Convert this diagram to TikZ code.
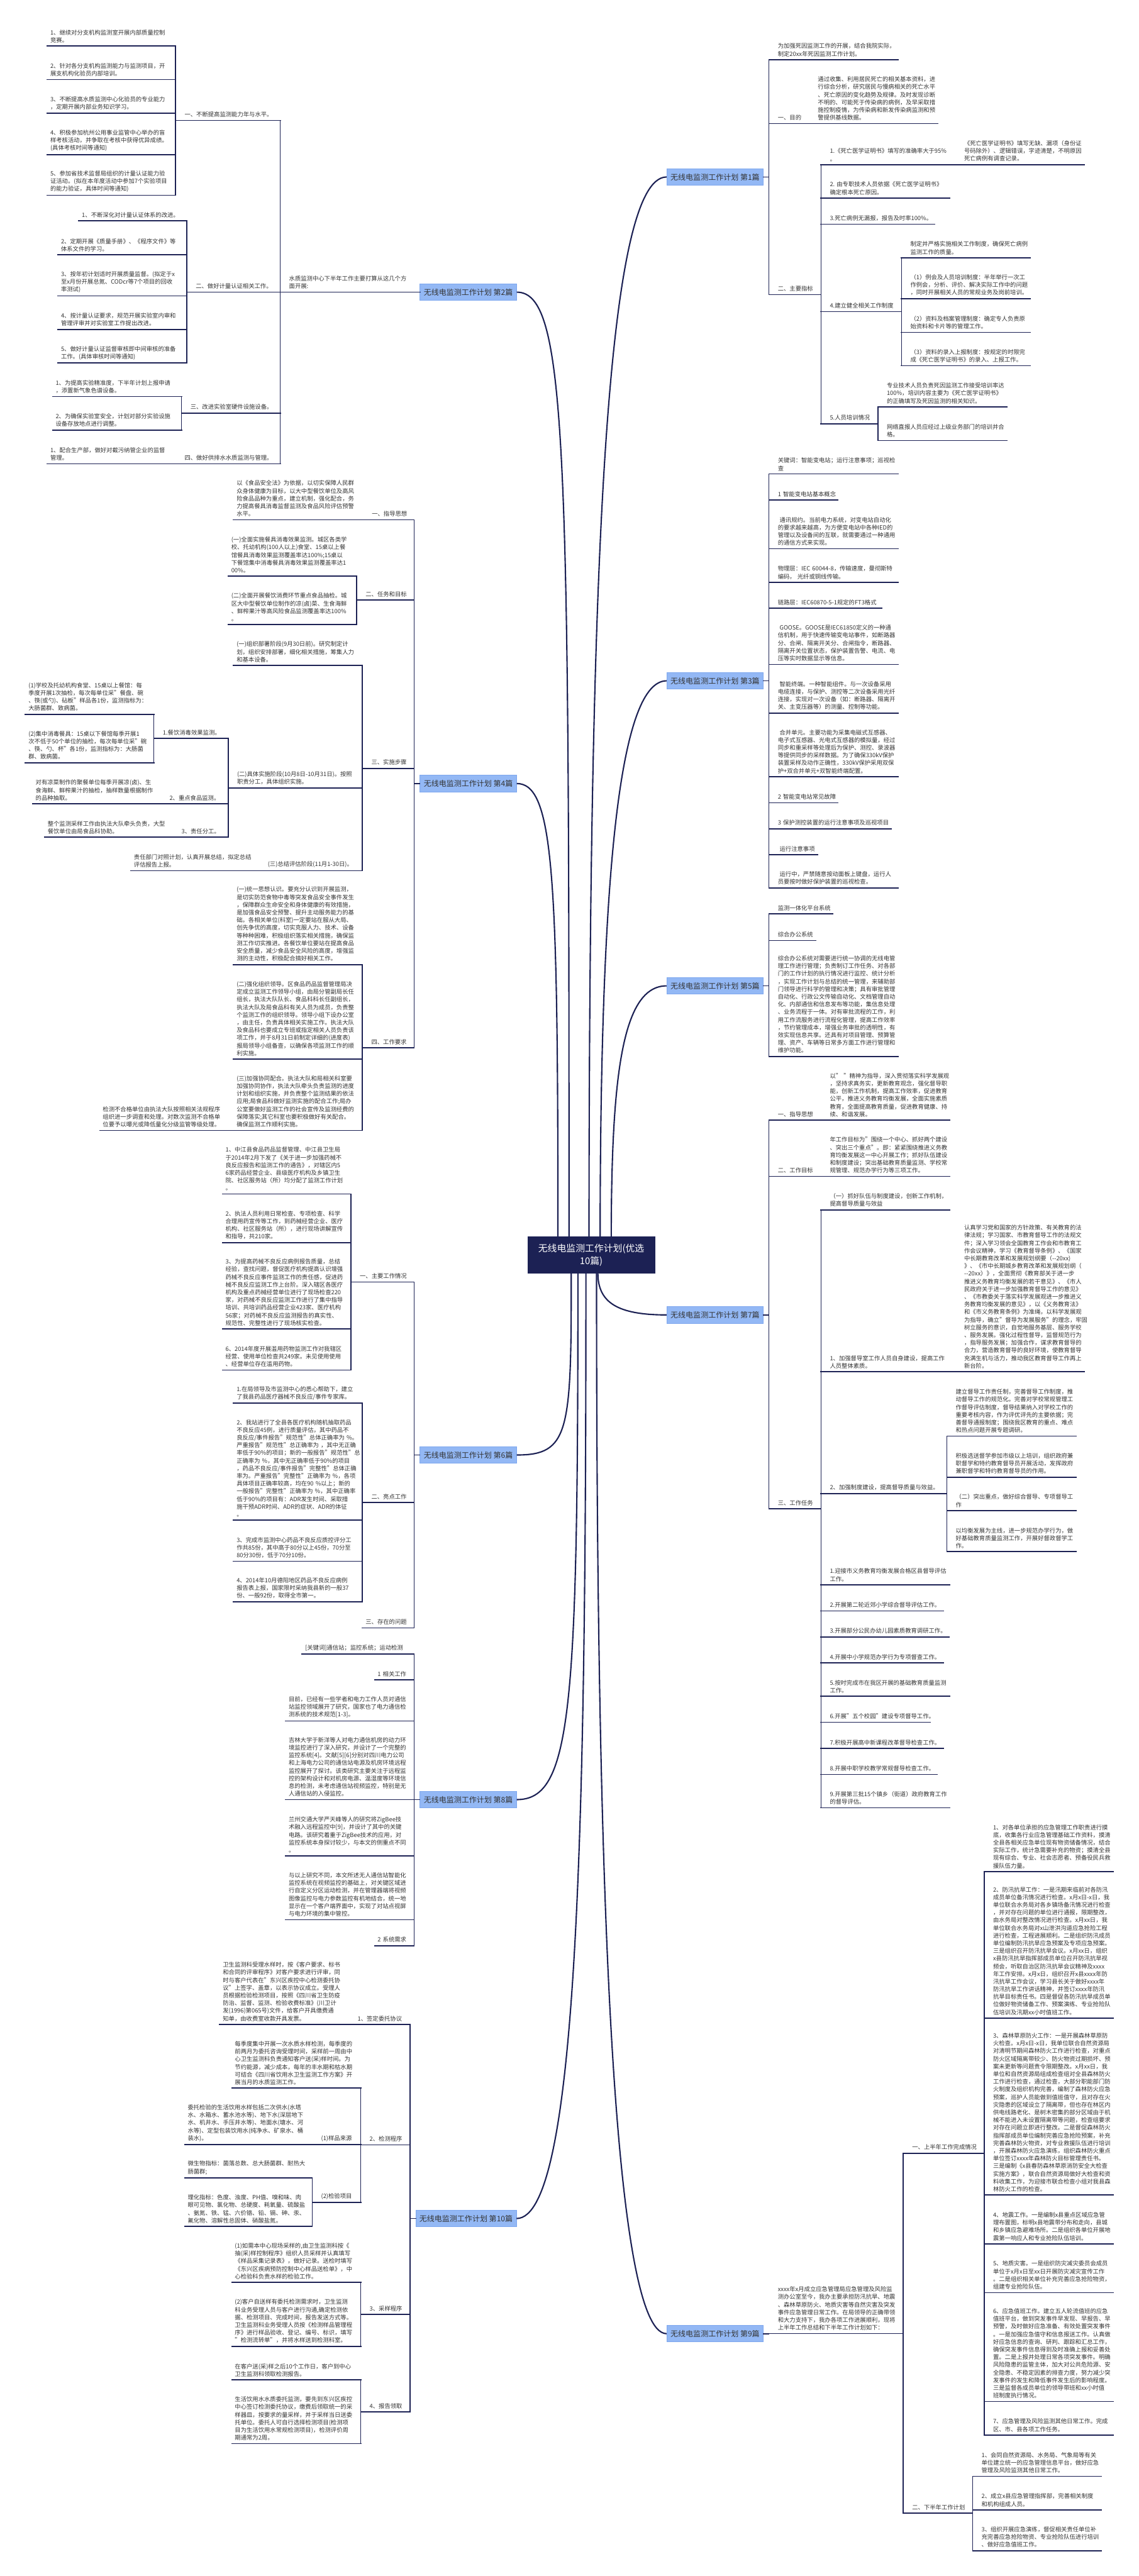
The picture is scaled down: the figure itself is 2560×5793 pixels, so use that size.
\documentclass[tikz,border=0pt]{standalone}
\usepackage{fontspec}
\setmainfont{Noto Sans CJK SC}
\definecolor{inkline}{HTML}{1C2154}
\definecolor{inktext}{HTML}{333333}
\definecolor{sheetfill}{HTML}{93B8F5}
\definecolor{sheetedge}{HTML}{7EA7EE}
\newcommand{\leaffont}{\fontsize{13.2pt}{17.25pt}\selectfont}
\newcommand{\sheetfont}{\fontsize{17pt}{20pt}\selectfont}
\newcommand{\hubfont}{\fontsize{21pt}{29.6pt}\selectfont}
\hyphenpenalty=10000
\exhyphenpenalty=10000
\tikzset{
  link/.style={draw=inkline, line width=2.4pt, line cap=rect},
  trunk/.style={draw=inkline, line width=3pt},
  leafnode/.style={anchor=south west, inner xsep=7pt, inner ysep=7pt, align=left,
    font=\leaffont, text=inktext,
    append after command={(\tikzlastnode.south west) edge[link] (\tikzlastnode.south east)}},
  armnode/.style={leafnode, inner xsep=20pt},
  sheet/.style={fill=sheetfill, draw=sheetedge, line width=1pt, minimum width=217pt,
    minimum height=37pt, inner sep=0pt, font=\sheetfont, text=inktext},
  hub/.style={fill=inkline, minimum width=287pt, minimum height=83pt, inner sep=0pt,
    align=center, font=\hubfont, text=white}
}

\begin{document}
\begin{tikzpicture}[x=1pt, y=-1pt]
  \fill[white] (0,0) rectangle (2560,5793);
  \useasboundingbox (0,0) rectangle (2560,5793);

  % centre and the ten sheets
  \node[hub] (ctr) at (1329.5,2822.5) {无线电监测工作计划(优选\\10篇)};
  \node[sheet] (p1) at (1608,398) {无线电监测工作计划 第1篇};
  \node[sheet] (p2) at (1053,657) {无线电监测工作计划 第2篇};
  \node[sheet] (p3) at (1608,1531) {无线电监测工作计划 第3篇};
  \node[sheet] (p4) at (1053,1762) {无线电监测工作计划 第4篇};
  \node[sheet] (p5) at (1608,2217) {无线电监测工作计划 第5篇};
  \node[sheet] (p6) at (1053,3272) {无线电监测工作计划 第6篇};
  \node[sheet] (p7) at (1608,2957) {无线电监测工作计划 第7篇};
  \node[sheet] (p8) at (1053,4047) {无线电监测工作计划 第8篇};
  \node[sheet] (p9) at (1608,5248) {无线电监测工作计划 第9篇};
  \node[sheet, minimum width=226pt] (p10) at (1048,4989) {无线电监测工作计划 第10篇};

  \draw[trunk] ([xshift=-50pt]ctr.north) .. controls (1280,1000) and (1275,657) .. (p2.east);
  \draw[trunk] ([xshift=-75pt]ctr.north) .. controls (1255,1966) and (1245,1762) .. (p4.east);
  \draw[trunk] ([xshift=-5pt]ctr.north) .. controls (1325,1300) and (1360,398) .. (p1.west);
  \draw[trunk] ([xshift=20pt]ctr.north) .. controls (1350,2031) and (1385,1531) .. (p3.west);
  \draw[trunk] ([xshift=45pt]ctr.north) .. controls (1375,2414) and (1400,2217) .. (p5.west);
  \draw[trunk] ([xshift=-45pt]ctr.south) .. controls (1285,3220) and (1280,3272) .. (p6.east);
  \draw[trunk] ([xshift=-30pt]ctr.south) .. controls (1300,3850) and (1285,4047) .. (p8.east);
  \draw[trunk] ([xshift=-12pt]ctr.south) .. controls (1318,4100) and (1300,4989) .. (p10.east);
  \draw[trunk] ([xshift=15pt]ctr.south) .. controls (1345,2930) and (1390,2957) .. (p7.west);
  \draw[trunk] ([xshift=12pt]ctr.south) .. controls (1341,4100) and (1370,5248) .. (p9.west);

  % 第2篇
  \node[armnode, text width=275pt] (p2i) at (630,657) {水质监测中心下半年工作主要打算从这几个方\\面开展:};
  \node[armnode, text width=195pt] (p2a) at (395,271) {一、不断提高监测能力年与水平。};
  \node[armnode, text width=170pt] (p2b) at (420,657) {二、做好计量认证相关工作。};
  \node[armnode, text width=182pt] (p2c) at (408,929) {三、改进实验室硬件设施设备。};
  \node[leafnode, text width=208pt] (p2d) at (408,1043) {四、做好供排水水质监测与管理。};
  \node[leafnode, text width=275pt] (p2a1) at (106,103.5) {1、继续对分支机构监测室开展内部质量控制\\竞赛。};
  \node[leafnode, text width=275pt] (p2a2) at (106,179) {2、针对各分支机构监测能力与监测项目，开\\展支机构化验员内部培训。};
  \node[leafnode, text width=275pt] (p2a3) at (106,254.5) {3、不断提高水质监测中心化验员的专业能力\\，定期开展内部业务知识学习。};
  \node[leafnode, text width=275pt] (p2a4) at (106,347.5) {4、积极参加杭州公用事业监管中心举办的盲\\样考核活动，并争取在考核中获得优异成绩。\\(具体考核时间等通知)};
  \node[leafnode, text width=275pt] (p2a5) at (106,439) {5、参加省技术监督局组织的计量认证能力验\\证活动。(拟在本年度活动中参加7个实验项目\\的能力验证，具体时间等通知)};
  \node[leafnode, text width=229pt] (p2b1) at (177,496.6) {1、不断深化对计量认证体系的改进。};
  \node[leafnode, text width=276pt] (p2b2) at (130,573) {2、定期开展《质量手册》、《程序文件》等\\体系文件的学习。};
  \node[leafnode, text width=276pt] (p2b3) at (130,665.5) {3、按年初计划适时开展质量监督。(拟定于x\\至x月份开展总氮、CODcr等7个项目的回收\\率测试)};
  \node[leafnode, text width=276pt] (p2b4) at (130,740.6) {4、按计量认证要求，规范开展实验室内审和\\管理评审并对实验室工作提出改进。};
  \node[leafnode, text width=276pt] (p2b5) at (130,816.4) {5、做好计量认证监督审核即中间审核的准备\\工作。(具体审核时间等通知)};
  \node[leafnode, text width=276pt] (p2c1) at (118,891.5) {1、为提高实验精准度，下半年计划上报申请\\，添置新气象色谱设备。};
  \node[leafnode, text width=276pt] (p2c2) at (118,967) {2、为确保实验室安全，计划对部分实验设施\\设备存放地点进行调整。};
  \node[leafnode, text width=288pt] (p2d1) at (106,1043) {1、配合生产部，做好对截污纳管企业的监督\\管理。};

  \draw[link] (p2.west) -| (p2i.south east);
  \foreach \kid in {p2a,p2b,p2c,p2d} \draw[link] (p2i.south west) |- (\kid.south east);
  \foreach \kid in {p2a1,p2a2,p2a3,p2a4,p2a5} \draw[link] (p2a.south west) |- (\kid.south east);
  \foreach \kid in {p2b1,p2b2,p2b3,p2b4,p2b5} \draw[link] (p2b.south west) |- (\kid.south east);
  \foreach \kid in {p2c1,p2c2} \draw[link] (p2c.south west) |- (\kid.south east);
  \draw[link] (p2d.south west) |- (p2d1.south east);

  % 第4篇
  \node[armnode, text width=75pt] (p4a) at (816,1169) {一、指导思想};
  \node[leafnode, text width=277pt] (p4a1) at (525,1169) {以《食品安全法》为依据，以切实保障人民群\\众身体健康为目标，以大中型餐饮单位及高风\\险食品品种为重点，建立机制，强化配合，务\\力提高餐具消毒监督监测及食品风险评估预警\\水平。};
  \node[armnode, text width=89pt] (p4b) at (802,1349) {二、任务和目标};
  \node[leafnode, text width=275pt] (p4b1) at (513,1295.6) {(一)全面实施餐具消毒效果监测。城区各类学\\校、托幼机构(100人以上)食堂、15桌以上餐\\馆餐具消毒效果监测覆盖率达100\%;15桌以\\下餐馆集中消毒餐具消毒效果监测覆盖率达1\\00\%。};
  \node[leafnode, text width=275pt] (p4b2) at (513,1404.7) {(二)全面开展餐饮消费环节重点食品抽检。城\\区大中型餐饮单位制作的凉(卤)菜、生食海鲜\\、鲜榨果汁等高风险食品监测覆盖率达100\%\\。};
  \node[armnode, text width=76pt] (p4c) at (815,1728) {三、实施步骤};
  \node[leafnode, text width=276pt] (p4c1) at (525,1496.5) {(一)组织部署阶段(9月30日前)。研究制定计\\划，组织安排部署，细化相关措施，筹集人力\\和基本设备。};
  \node[armnode, text width=262pt] (p4c2) at (513,1772) {(二)具体实施阶段(10月8日-10月31日)。按照\\职责分工，具体组织实施。};
  \node[armnode, text width=127pt] (p4c2a) at (346,1660.4) {1.餐饮消毒效果监测。};
  \node[leafnode, text width=275pt] (p4c2a1) at (57,1606.2) {(1)学校及托幼机构食堂、15桌以上餐馆：每\\季度开展1次抽检，每次每单位采"餐盘、碗\\、筷(或勺)、砧板"样品各1份，监测指标为：\\大肠菌群、致病菌。};
  \node[leafnode, text width=275pt] (p4c2a2) at (57,1715.2) {(2)集中消毒餐具：15桌以下餐馆每季开展1\\次不低于50个单位的抽检，每次每单位采"碗\\、筷、勺、杯"各1份，监测指标为：大肠菌\\群、致病菌。};
  \node[armnode, text width=112pt] (p4c2b) at (361,1807.7) {2、重点食品监测。};
  \node[leafnode, text width=274pt] (p4c2b1) at (73,1807.7) {对有凉菜制作的聚餐单位每季开展凉(卤)、生\\食海鲜、鲜榨果汁的抽检，抽样数量根据制作\\的品种抽取。};
  \node[armnode, text width=85pt] (p4c2c) at (388,1882.8) {3、责任分工。};
  \node[leafnode, text width=274pt] (p4c2c1) at (100,1882.8) {整个监测采样工作由执法大队牵头负责，大型\\餐饮单位由局食品科协助。};
  \node[armnode, text width=193pt] (p4c3) at (582,1957.9) {(三)总结评估阶段(11月1-30日)。};
  \node[leafnode, text width=274pt] (p4c31) at (294,1957.9) {责任部门对照计划，认真开展总结，拟定总结\\评估报告上报。};
  \node[armnode, text width=76pt] (p4d) at (815,2356) {四、工作要求};
  \node[leafnode, text width=276pt] (p4d1) at (525,2169.2) {(一)统一思想认识。要充分认识到开展监测，\\是切实防范食物中毒等突发食品安全事件发生\\，保障群众生命安全和身体健康的有效措施，\\是加强食品安全预警、提升主动服务能力的基\\础。各相关单位(科室)一定要站在服从大局、\\创先争优的高度，切实克服人力、技术、设备\\等种种困难，积极组织落实相关措施，确保监\\测工作切实推进。各餐饮单位要站在提高食品\\安全质量，减少食品安全风险的高度，增强监\\测的主动性，积极配合搞好相关工作。};
  \node[leafnode, text width=276pt] (p4d2) at (525,2381.8) {(二)强化组织领导。区食品药品监督管理局决\\定成立监测工作领导小组，由局分管副局长任\\组长，执法大队队长、食品科科长任副组长，\\执法大队及局食品科有关人员为成员，负责整\\个监测工作的组织领导。领导小组下设办公室\\，由主任，负责具体相关实施工作。执法大队\\及食品科也要成立专班或指定相关人员负责该\\项工作，并于8月31日前制定详细的(进度表)\\报局领导小组备查，以确保各项监测工作的顺\\利实施。};
  \node[leafnode, text width=276pt] (p4d3) at (525,2542) {(三)加强协同配合。执法大队和局相关科室要\\加强协同协作，执法大队牵头负责监测的进度\\计划和组织实施，并负责整个监测结果的依法\\应用;局食品科做好监测实施的配合工作;局办\\公室要做好监测工作的社会宣传及监测经费的\\保障落实;其它科室也要积极做好有关配合。\\确保监测工作顺利实施。};
  \node[leafnode, text width=287pt] (p4d31) at (224,2542) {检测不合格单位由执法大队按照相关法规程序\\组织进一步调查和处理。对数次监测不合格单\\位要予以曝光或降低量化分级监管等级处理。};

  \foreach \kid in {p4a,p4b,p4c,p4d} \draw[link] (p4.west) -| (\kid.south east);
  \draw[link] (p4a.south west) |- (p4a1.south east);
  \foreach \kid in {p4b1,p4b2} \draw[link] (p4b.south west) |- (\kid.south east);
  \foreach \kid in {p4c1,p4c2,p4c3} \draw[link] (p4c.south west) |- (\kid.south east);
  \foreach \kid in {p4c2a,p4c2b,p4c2c} \draw[link] (p4c2.south west) |- (\kid.south east);
  \foreach \kid in {p4c2a1,p4c2a2} \draw[link] (p4c2a.south west) |- (\kid.south east);
  \draw[link] (p4c2b.south west) |- (p4c2b1.south east);
  \draw[link] (p4c2c.south west) |- (p4c2c1.south east);
  \draw[link] (p4c3.south west) |- (p4c31.south east);
  \foreach \kid in {p4d1,p4d2,p4d3} \draw[link] (p4d.south west) |- (\kid.south east);
  \draw[link] (p4d3.south west) |- (p4d31.south east);

  % 第6篇
  \node[armnode, text width=102pt] (p6a) at (789,2883) {一、主要工作情况};
  \node[leafnode, text width=275pt] (p6a1) at (500,2685) {1、中江县食品药品监督管理、中江县卫生局\\于2014年2月下发了《关于进一步加强药械不\\良反应报告和监测工作的通告》，对辖区内5\\6家药品经营企业、县级医疗机构及乡镇卫生\\院、社区服务站（所）均分配了监测工作计划\\。};
  \node[leafnode, text width=275pt] (p6a2) at (500,2794.6) {2、执法人员利用日常检查、专项检查、科学\\合理用药宣传等工作，到药械经营企业、医疗\\机构、社区服务站（所），进行现场讲解宣传\\和指导，共210家。};
  \node[leafnode, text width=275pt] (p6a3) at (500,2988.6) {3、为提高药械不良反应病例报告质量，总结\\经验，查找问题，督促医疗机构提高认识增强\\药械不良反应事件监测工作的责任感，促进药\\械不良反应监测工作上台阶。深入辖区各医疗\\机构及重点药械经营单位进行了现场检查220\\家，对药械不良反应监测工作进行了集中指导\\培训、共培训药品经营企业423家、医疗机构\\56家；对药械不良反应监测报告的真实性、\\规范性、完整性进行了现场核实检查。};
  \node[leafnode, text width=275pt] (p6a4) at (500,3081) {6、2014年度开展滥用药物监测工作对我辖区\\经营、使用单位检查共249家。未见使用使用\\、经营单位存在滥用药物。};
  \node[armnode, text width=76pt] (p6b) at (815,3378.6) {二、亮点工作};
  \node[leafnode, text width=276pt] (p6b1) at (525,3155.5) {1.在局领导及市监测中心的悉心帮助下，建立\\了我县药品医疗器械不良反应/事件专家库。};
  \node[leafnode, text width=276pt] (p6b2) at (525,3418.6) {2、我站进行了全县各医疗机构随机抽取药品\\不良反应45例，进行质量评估，其中药品不\\良反应/事件报告"规范性"总体正确率为~\%。\\严重报告"规范性"总正确率为~，其中无正确\\率低于90\%的项目；新的一般报告"规范性"总\\正确率为~\%，其中无正确率低于90\%的项目\\，药品不良反应/事件报告"完整性"总体正确\\率为。严重报告"完整性"正确率为~\%，各项\\具体项目正确率较高，均在90~\%以上；新的\\一般报告"完整性"正确率为~\%，其中正确率\\低于90\%的项目有：ADR发生时间、采取措\\施干预ADR时间、ADR的症状、ADR的体征\\。};
  \node[leafnode, text width=276pt] (p6b3) at (525,3511) {3、完成市监测中心药品不良反应质控评分工\\作共85份，其中高于80分以上45份，70分至\\80分30份，低于70分10份。};
  \node[leafnode, text width=276pt] (p6b4) at (525,3602.3) {4、2014年10月德阳地区药品不良反应病例\\报告表上报，国家限时采纳我县新的一般37\\份、一般92份，取得全市第一。};
  \node[leafnode, text width=102pt] (p6c) at (815,3660.8) {三、存在的问题};

  \foreach \kid in {p6a,p6b,p6c} \draw[link] (p6.west) -| (\kid.south east);
  \foreach \kid in {p6a1,p6a2,p6a3,p6a4} \draw[link] (p6a.south west) |- (\kid.south east);
  \foreach \kid in {p6b1,p6b2,p6b3,p6b4} \draw[link] (p6b.south west) |- (\kid.south east);

  % 第8篇
  \node[leafnode, text width=238pt] (p8a) at (679,3719.3) {[关键词]通信站；监控系统；运动检测};
  \node[leafnode, text width=75pt] (p8b) at (842,3777.9) {1~相关工作};
  \node[leafnode, text width=275pt] (p8c) at (642,3870.2) {目前，已经有一些学者和电力工作人员对通信\\站监控领域展开了研究，国家也了电力通信检\\测系统的技术规范[1-3]。};
  \node[leafnode, text width=275pt] (p8d) at (642,4047) {吉林大学于新洋等人对电力通信机房的动力环\\境监控进行了深入研究，并设计了一个完整的\\监控系统[4]。文献[5][6]分别对四川电力公司\\和上海电力公司的通信站电源及机房环境远程\\监控展开了探讨。该类研究主要关注于远程监\\控的架构设计和对机房电源、温湿度等环境信\\息的检测，未考虑通信站视频监控，特别是无\\人通信站的入侵监控。};
  \node[leafnode, text width=275pt] (p8e) at (642,4173.9) {兰州交通大学严天峰等人的研究将ZigBee技\\术融入远程监控中[9]，并设计了其中的关键\\电路。该研究着重于ZigBee技术的应用，对\\监控系统本身探讨较少，与本文的侧重点不同\\。};
  \node[leafnode, text width=275pt] (p8f) at (642,4316.9) {与以上研究不同，本文所述无人通信站智能化\\监控系统在视频监控的基础上，对关键区域进\\行自定义分区运动检测，并在管理器端将视频\\图像监控与电力参数监控有机地结合，统一地\\显示在一个客户端界面中，实现了对站点视屏\\与电力环境的集中管控。};
  \node[leafnode, text width=75pt] (p8g) at (842,4375.4) {2~系统需求};

  \foreach \kid in {p8a,p8b,p8c,p8d,p8e,p8f,p8g} \draw[link] (p8.west) -| (\kid.south east);

  % 第10篇
  \node[armnode, text width=98pt] (p10a) at (784,4552.8) {1、签定委托协议};
  \node[leafnode, text width=276pt] (p10a1) at (494,4552.8) {卫生监测科受理水样时，按《客户要求、标书\\和合同的评审程序》对客户要求进行评审，同\\时与客户代表在"东兴区疾控中心检测委托协\\议"上签字、盖章，以表示协议成立。受理人\\员根据检验检测项目，按照《四川省卫生防疫\\防治、监督、监测、检验收费标准》(川卫计\\发(1996)第065号)文件，给客户开具缴费通\\知单，由收费室收款开具发票。};
  \node[armnode, text width=71pt] (p10b) at (811,4823.5) {2、检测程序};
  \node[leafnode, text width=276pt] (p10b1) at (521,4695.8) {每季度集中开展一次水质水样检测，每季度的\\前两月为委托咨询受理时间，采样前一周由中\\心卫生监测科负责通知客户送(采)样时间。为\\节约能源，减少成本，每年的丰水期和枯水期\\可结合《四川省饮用水卫生监测工作方案》开\\展当月的水质监测工作。};
  \node[armnode, text width=69pt] (p10b2) at (702,4823) {(1)样品来源};
  \node[leafnode, text width=273pt] (p10b21) at (415,4823) {委托检验的生活饮用水样包括二次供水(水塔\\水、水箱水、蓄水池水等)、地下水(深层地下\\水、机井水、手压井水等)、地面水(塘水、河\\水等)、定型包装饮用水(纯净水、矿泉水、桶\\装水)。};
  \node[armnode, text width=69pt] (p10b3) at (702,4952.9) {(2)检验项目};
  \node[leafnode, text width=273pt] (p10b31) at (415,4897.6) {微生物指标：菌落总数、总大肠菌群、耐热大\\肠菌群;};
  \node[leafnode, text width=273pt] (p10b32) at (415,5006.9) {理化指标：色度、浊度、PH值、嗅和味、肉\\眼可见物、氯化物、总硬度、耗氧量、硫酸盐\\、氨氮、铁、锰、六价铬、铅、镉、砷、汞、\\氟化物、溶解性总固体、硝酸盐氮。};
  \node[armnode, text width=71pt] (p10c) at (811,5204.7) {3、采样程序};
  \node[leafnode, text width=276pt] (p10c1) at (521,5132.8) {(1)如需本中心现场采样的,由卫生监测科按《\\抽(采)样控制程序》组织人员采样并认真填写\\《样品采集记录表》，做好记录。送检时填写\\《东兴区疾病预防控制中心样品送检单》，中\\心检验科负责水样的检验工作。};
  \node[leafnode, text width=276pt] (p10c2) at (521,5276.6) {(2)客户自送样有委托检测需求时，卫生监测\\科业务受理人员与客户进行沟通,确定检测依\\据、检测项目、完成时间，报告发送方式等。\\卫生监测科业务受理人员按《检测样品管理程\\序》进行样品验收、登记、编号、标识，填写\\"检测流转单"，并将水样送到检测科室。};
  \node[armnode, text width=71pt] (p10d) at (811,5424) {4、报告领取};
  \node[leafnode, text width=276pt] (p10d1) at (521,5352.1) {在客户送(采)样之后10个工作日，客户到中心\\卫生监测科领取检测报告。};
  \node[leafnode, text width=276pt] (p10d2) at (521,5495.2) {生活饮用水水质委托监测，要先到东兴区疾控\\中心签订检测委托协议，缴费后领取统一的采\\样器皿，按要求的量采样，并于采样当日送委\\托单位。委托人可自行选择检测项目(检测项\\目为生活饮用水常规检测项目)，检测评价周\\期通常为2周。};

  \foreach \kid in {p10a,p10b,p10c,p10d} \draw[link] (p10.west) -| (\kid.south east);
  \draw[link] (p10a.south west) |- (p10a1.south east);
  \foreach \kid in {p10b1,p10b2,p10b3} \draw[link] (p10b.south west) |- (\kid.south east);
  \draw[link] (p10b2.south west) |- (p10b21.south east);
  \foreach \kid in {p10b31,p10b32} \draw[link] (p10b3.south west) |- (\kid.south east);
  \foreach \kid in {p10c1,p10c2} \draw[link] (p10c.south west) |- (\kid.south east);
  \foreach \kid in {p10d1,p10d2} \draw[link] (p10d.south west) |- (\kid.south east);

  % 第1篇
  \node[armnode, text width=250pt] (p1a) at (1729,134.3) {为加强死因监测工作的开展，结合我院实际，\\制定20xx年死因监测工作计划。};
  \node[armnode, text width=50pt] (p1b) at (1729,277.9) {一、目的};
  \node[armnode, text width=250pt] (p1b1) at (1819,277.9) {通过收集、利用居民死亡的相关基本资料，进\\行综合分析，研究居民与慢病相关的死亡水平\\、死亡原因的变化趋势及规律。及时发现诊断\\不明的、可能死于传染病的病例，及早采取措\\施控制疫情，为传染病和新发传染病监测和预\\警提供基线数据。};
  \node[armnode, text width=77pt] (p1c) at (1729,662.4) {二、主要指标};
  \node[armnode, text width=262pt] (p1c1) at (1846,370.3) {1.《死亡医学证明书》填写的准确率大于95\%\\。};
  \node[armnode, text width=250pt] (p1c11) at (2148,370.3) {《死亡医学证明书》填写无缺、漏项（身份证\\号码除外）、逻辑错误，字迹清楚，不明原因\\死亡病例有调查记录。};
  \node[armnode, text width=250pt] (p1c2) at (1846,445.5) {2.~由专职技术人员依据《死亡医学证明书》\\确定根本死亡原因。};
  \node[armnode, text width=216pt] (p1c3) at (1846,504) {3.死亡病例无漏报，报告及时率100\%。};
  \node[armnode, text width=141pt] (p1c4) at (1846,700.6) {4.建立健全相关工作制度};
  \node[armnode, text width=249pt] (p1c41) at (2027,579.8) {制定并严格实施相关工作制度，确保死亡病例\\监测工作的质量。};
  \node[armnode, text width=249pt] (p1c42) at (2027,671.6) {（1）例会及人员培训制度：半年举行一次工\\作例会，分析、评价、解决实际工作中的问题\\，同时开展相关人员的常规业务及岗前培训。};
  \node[armnode, text width=249pt] (p1c43) at (2027,747.4) {（2）资料及档案管理制度：确定专人负责原\\始资料和卡片等的管理工作。};
  \node[armnode, text width=249pt] (p1c44) at (2027,822.6) {（3）资料的录入上报制度：按规定的时限完\\成《死亡医学证明书》的录入、上报工作。};
  \node[armnode, text width=88pt] (p1c5) at (1846,952.8) {5.人员培训情况};
  \node[armnode, text width=250pt] (p1c51) at (1974,915) {专业技术人员负责死因监测工作接受培训率达\\100\%，培训内容主要为《死亡医学证明书》\\的正确填写及死因监测的相关知识。};
  \node[armnode, text width=250pt] (p1c52) at (1974,990.6) {网络直报人员应经过上级业务部门的培训并合\\格。};

  \foreach \kid in {p1a,p1b,p1c} \draw[link] (p1.east) -| (\kid.south west);
  \draw[link] (p1b.south east) |- (p1b1.south west);
  \foreach \kid in {p1c1,p1c2,p1c3,p1c4,p1c5} \draw[link] (p1c.south east) |- (\kid.south west);
  \draw[link] (p1c1.south east) |- (p1c11.south west);
  \foreach \kid in {p1c41,p1c42,p1c43,p1c44} \draw[link] (p1c4.south east) |- (\kid.south west);
  \foreach \kid in {p1c51,p1c52} \draw[link] (p1c5.south east) |- (\kid.south west);

  % 第3篇
  \node[armnode, text width=250pt] (p3a) at (1729,1065.8) {关键词：智能变电站；运行注意事项；巡视检\\查};
  \node[armnode, text width=115pt] (p3b) at (1729,1124.3) {1~智能变电站基本概念};
  \node[armnode, text width=250pt] (p3c) at (1729,1234) {\hspace*{4pt}通讯规约。当前电力系统，对变电站自动化\\的要求越来越高，为方便变电站中各种IED的\\管理以及设备间的互联，就需要通过一种通用\\的通信方式来实现。};
  \node[armnode, text width=250pt] (p3d) at (1729,1309.8) {物理层：IEC~60044-8，传输速度，曼彻斯特\\编码，~光纤或铜线传输。};
  \node[armnode, text width=213pt] (p3e) at (1729,1367.7) {链路层：IEC60870-5-1规定的FT3格式};
  \node[armnode, text width=250pt] (p3f) at (1729,1494) {\hspace*{4pt}GOOSE。GOOSE是IEC61850定义的一种通\\信机制，用于快速传输变电站事件，如断路器\\分、合闸、隔离开关分、合闸指令，断路器、\\隔离开关位置状态，保护装置告警、电流、电\\压等实时数据显示等信息。};
  \node[armnode, text width=250pt] (p3g) at (1729,1603.7) {\hspace*{4pt}智能终端。一种智能组件。与一次设备采用\\电缆连接，与保护、测控等二次设备采用光纤\\连接，实现对一次设备（如：断路器、隔离开\\关、主变压器等）的测量、控制等功能。};
  \node[armnode, text width=250pt] (p3h) at (1729,1746.6) {\hspace*{4pt}合并单元。主要功能为采集电磁式互感器、\\电子式互感器、光电式互感器的模拟量，经过\\同步和重采样等处理后为保护、测控、录波器\\等提供同步的采样数据。为了确保330kV保护\\装置采样及动作正确性，330kV保护采用双保\\护+双合并单元+双智能终端配置。};
  \node[armnode, text width=115pt] (p3i) at (1729,1805.2) {2~智能变电站常见故障};
  \node[armnode, text width=235pt] (p3j) at (1729,1863.7) {3~保护测控装置的运行注意事项及巡视项目};
  \node[armnode, text width=69pt] (p3k) at (1729,1922.2) {\hspace*{4pt}运行注意事项};
  \node[armnode, text width=250pt] (p3l) at (1729,1996.7) {\hspace*{4pt}运行中，严禁随意按动面板上键盘，运行人\\员要按时做好保护装置的巡视检查。};

  \foreach \kid in {p3a,p3b,p3c,p3d,p3e,p3f,p3g,p3h,p3i,p3j,p3k,p3l} \draw[link] (p3.east) -| (\kid.south west);

  % 第5篇
  \node[armnode, text width=104pt] (p5a) at (1729,2055.2) {监测一体化平台系统};
  \node[armnode, text width=65pt] (p5b) at (1729,2115) {综合办公系统};
  \node[armnode, text width=250pt] (p5c) at (1729,2375.6) {综合办公系统对需要进行统一协调的无线电管\\理工作进行管理；负责制订工作任务、对各部\\门的工作计划的执行情况进行监控、统计分析\\，实现工作计划与总结的统一管理，来辅助部\\门领导进行科学的管理和决策；具有审批管理\\自动化、行政公文传输自动化、文档管理自动\\化、内部通信和信息发布等功能，集信息处理\\、业务流程于一体。对有审批流程的工作，利\\用工作流服务进行流程化管理，提高工作效率\\，节约管理成本，增强业务审批的透明性，有\\效实现信息共享。还具有对项目管理、预算管\\理、资产、车辆等日常多方面工作进行管理和\\维护功能。};

  \foreach \kid in {p5a,p5b,p5c} \draw[link] (p5.east) -| (\kid.south west);

  % 第7篇
  \node[armnode, text width=77pt] (p7a) at (1729,2519.2) {一、指导思想};
  \node[armnode, text width=249pt] (p7a1) at (1846,2519.2) {以"~"精神为指导，深入贯彻落实科学发展观\\，坚持求真务实，更新教育观念，强化督导职\\能，创新工作机制，提高工作效率，促进教育\\公平，推进义务教育均衡发展，全面实施素质\\教育，全面提高教育质量，促进教育健康、持\\续、和谐发展。};
  \node[armnode, text width=77pt] (p7b) at (1729,2645.5) {二、工作目标};
  \node[armnode, text width=249pt] (p7b1) at (1846,2645.5) {年工作目标为"围绕一个中心、抓好两个建设\\、突出三个重点"。即：紧紧围绕推进义务教\\育均衡发展这一中心开展工作；抓好队伍建设\\和制度建设；突出基础教育质量监测、学校常\\规管理、规范办学行为等三项工作。};
  \node[armnode, text width=77pt] (p7c) at (1729,3392.8) {三、工作任务};
  \node[armnode, text width=249pt] (p7c1) at (1846,2720.7) {（一）抓好队伍与制度建设，创新工作机制，\\提高督导质量与效益};
  \node[armnode, text width=262pt] (p7c2) at (1846,3084.7) {1、加强督导室工作人员自身建设，提高工作\\人员整体素质。};
  \node[armnode, text width=250pt] (p7c21) at (2148,3084.7) {认真学习党和国家的方针政策、有关教育的法\\律法规；学习国家、市教育督导工作的法规文\\件；深入学习领会全国教育工作会和市教育工\\作会议精神，学习《教育督导条例》、《国家\\中长期教育改革和发展规划纲要（-{}-20xx)\\》、《市中长期城乡教育改革和发展规划纲（\\-{}-20xx）》，全面贯彻《教育部关于进一步\\推进义务教育均衡发展的若干意见》、《市人\\民政府关于进一步加强教育督导工作的意见》\\、《市教委关于落实科学发展观进一步推进义\\务教育均衡发展的意见》，以《义务教育法》\\和《市义务教育条例》为准绳，以科学发展观\\为指导，确立"督导为发展服务"的理念，牢固\\树立服务的意识，自觉地服务基层、服务学校\\、服务发展。强化过程性督导，监督规范行为\\，指导服务发展；加强合作，谋求教育督导的\\合力，营造教育督导的良好环境，使教育督导\\充满生机与活力，推动我区教育督导工作再上\\新台阶。};
  \node[armnode, text width=243pt] (p7c3) at (1846,3358.9) {2、加强制度建设，提高督导质量与效益。};
  \node[armnode, text width=250pt] (p7c31) at (2129,3229.5) {建立督导工作责任制，完善督导工作制度，推\\动督导工作的规范化。完善对学校常规管理工\\作督导评估制度，督导结果纳入对学校工作的\\重要考核内容，作为评优评先的主要依据；完\\善督导通报制度；围绕我区教育的重点、难点\\和热点问题开展专题调研。};
  \node[armnode, text width=250pt] (p7c32) at (2129,3321.9) {积极选送督学参加市级以上培训，组织政府兼\\职督学和特约教育督导员开展活动，发挥政府\\兼职督学和特约教育督导员的作用。};
  \node[armnode, text width=250pt] (p7c33) at (2129,3397.1) {（二）突出重点，做好综合督导、专项督导工\\作};
  \node[armnode, text width=250pt] (p7c34) at (2129,3489.5) {以均衡发展为主线，进一步规范办学行为，做\\好基础教育质量监测工作，开展好督政督学工\\作。};
  \node[armnode, text width=249pt] (p7c4) at (1846,3564) {1.迎接市义务教育均衡发展合格区县督导评估\\工作。};
  \node[armnode, text width=235pt] (p7c5) at (1846,3622.6) {2.开展第二轮近郊小学综合督导评估工作。};
  \node[armnode, text width=248pt] (p7c6) at (1846,3681.1) {3.开展部分公民办幼儿园素质教育调研工作。};
  \node[armnode, text width=235pt] (p7c7) at (1846,3739.7) {4.开展中小学规范办学行为专项督查工作。};
  \node[armnode, text width=249pt] (p7c8) at (1846,3814.8) {5.按时完成市在我区开展的基础教育质量监测\\工作。};
  \node[armnode, text width=206pt] (p7c9) at (1846,3873.2) {6.开展"五个校园"建设专项督导工作。};
  \node[armnode, text width=235pt] (p7c10) at (1846,3931.8) {7.积极开展高中新课程改革督导检查工作。};
  \node[armnode, text width=221pt] (p7c11) at (1846,3990.3) {8.开展中职学校教学常规督导检查工作。};
  \node[armnode, text width=249pt] (p7c12) at (1846,4065.5) {9.开展第三批15个镇乡（街道）政府教育工作\\的督导评估。};

  \foreach \kid in {p7a,p7b,p7c} \draw[link] (p7.east) -| (\kid.south west);
  \draw[link] (p7a.south east) |- (p7a1.south west);
  \draw[link] (p7b.south east) |- (p7b1.south west);
  \foreach \kid in {p7c1,p7c2,p7c3,p7c4,p7c5,p7c6,p7c7,p7c8,p7c9,p7c10,p7c11,p7c12} \draw[link] (p7c.south east) |- (\kid.south west);
  \draw[link] (p7c2.south east) |- (p7c21.south west);
  \foreach \kid in {p7c31,p7c32,p7c33,p7c34} \draw[link] (p7c3.south east) |- (\kid.south west);

  % 第9篇
  \node[armnode, text width=262pt] (p9a) at (1729,5247.7) {xxxx年x月成立应急管理局应急管理及风险监\\测办公室至今，我办主要承担防汛抗旱、地震\\、森林草原防火、地质灾害等自然灾害及突发\\事件应急管理日常工作。在局领导的正确带领\\和大力支持下，我办各项工作进展顺利，现将\\上半年工作总结和下半年工作计划如下：};
  \node[armnode, text width=142pt] (p9b) at (2031,4842.3) {一、上半年工作完成情况};
  \node[armnode, text width=250pt] (p9b1) at (2213,4209) {1、对各单位承担的应急管理工作职责进行摸\\底，收集各行业应急管理基础工作资料，摸清\\全县各相关应急单位现有物资储备情况，结合\\实际工作，统计急需要补充的物资；摸清全县\\现有综合、专业、社会志愿者、预备役民兵救\\援队伍力量。};
  \node[armnode, text width=250pt] (p9b2) at (2213,4538.7) {2、防汛抗旱工作：一是汛期来临前对各防汛\\成员单位备汛情况进行检查。x月x日-x日，我\\单位联合水务局对各乡镇场备汛情况进行检查\\，并对存在问题的单位进行通报，限期整改，\\由水务局对整改情况进行检查。x月xx日，我\\单位联合水务局对x山泄洪沟道应急抢险工程\\进行检查，工程进展顺利。二是组织防汛成员\\单位编制防汛抗旱应急预案及专项应急预案。\\三是组织召开防汛抗旱会议。x月xx日，组织\\x县防汛抗旱指挥部成员单位召开防汛抗旱视\\频会，听取自治区防汛抗旱会议精神及xxxx\\年工作安排。x月x日，组织召开x县xxxx年防\\汛抗旱工作会议，学习县长关于做好xxxx年\\防汛抗旱工作讲话精神，并签订xxxx年防汛\\抗旱目标责任书。四是督促各防汛抗旱成员单\\位做好物资储备工作、预案演练、专业抢险队\\伍培训及汛期xx小时值班工作。};
  \node[armnode, text width=250pt] (p9b3) at (2213,4936.3) {3、森林草原防火工作：一是开展森林草原防\\火检查。x月x日-x日，我单位联合自然资源局\\对清明节期间森林防火工作进行检查，对重点\\防火区域隔离带较少、防火物资过期损坏、预\\案未更新等问题责令限期整改。x月xx日，我\\单位和自然资源局组成检查组对全县森林防火\\工作进行检查，通过检查，大部分职能部门防\\火制度及组织机构完善，编制了森林防火应急\\预案，巡护人员能做到值班值守，且对存在火\\灾隐患的区域设立了隔离带，但也存在林区内\\供电线路老化、是树木密集的部分区域由于机\\械不能进入未设置隔离带等问题，检查组要求\\对存在问题立即进行整改。二是督促森林防火\\指挥部成员单位编制完善应急抢险预案，补充\\完善森林防火物资，对专业救援队伍进行培训\\，开展森林防火应急演练，组织森林防火重点\\单位签订xxxx年森林防火目标管理责任书。\\三是编制《x县春防森林草原消防安全大检查\\实施方案》，联合自然资源局做好大检查和资\\料收集工作，为迎接市联合检查小组对我县森\\林防火工作的检查。};
  \node[armnode, text width=250pt] (p9b4) at (2213,5046.2) {4、地震工作。一是编制x县重点区域应急管\\理布置图，标明x县地震带分布和走向，县城\\和乡镇应急避难场所。二是组织各单位开展地\\震第一响应人和专业抢险队伍培训。};
  \node[armnode, text width=250pt] (p9b5) at (2213,5155.6) {5、地质灾害。一是组织防灾减灾委员会成员\\单位于x月x日至xx日开展防灾减灾宣传工作\\。二是组织相关单位补充完善应急抢险物资，\\组建专业抢险队伍。};
  \node[armnode, text width=250pt] (p9b6) at (2213,5400.6) {6、应急值班工作。建立五人轮流值班的应急\\值班平台，做到突发事件早发现、早报告、早\\预警，及时做好应急准备、有效处置突发事件\\。一是加强应急值守和信息报送工作。认真做\\好应急信息的查询、研判、跟踪和汇总工作，\\确保突发事件信息得到及时准确上报和妥善处\\置。二是上报并处理日常各项突发事件。明确\\风险隐患的监管主体，加大对公共危险源、安\\全隐患、不稳定因素的排查力度，努力减少突\\发事件的发生和降低事件发生后的影响程度。\\三是监督各成员单位的领导带班和xx小时值\\班制度执行情况。};
  \node[armnode, text width=250pt] (p9b7) at (2213,5476.2) {7、应急管理及风险监测其他日常工作。完成\\区、市、县各项工作任务。};
  \node[armnode, text width=116pt] (p9c) at (2031,5651.9) {二、下半年工作计划};
  \node[armnode, text width=249pt] (p9c1) at (2187,5568.9) {1、会同自然资源局、水务局、气象局等有关\\单位建立统一的应急管理信息平台，做好应急\\管理及风险监测其他日常工作。};
  \node[armnode, text width=249pt] (p9c2) at (2187,5644.5) {2、成立x县应急管理指挥部，完善相关制度\\和机构组成人员。};
  \node[armnode, text width=249pt] (p9c3) at (2187,5736) {3、组织开展应急演练，督促相关责任单位补\\充完善应急抢险物资、专业抢险队伍进行培训\\、做好应急值班工作。};

  \draw[link] (p9.east) -| (p9a.south west);
  \foreach \kid in {p9b,p9c} \draw[link] (p9a.south east) |- (\kid.south west);
  \foreach \kid in {p9b1,p9b2,p9b3,p9b4,p9b5,p9b6,p9b7} \draw[link] (p9b.south east) |- (\kid.south west);
  \foreach \kid in {p9c1,p9c2,p9c3} \draw[link] (p9c.south east) |- (\kid.south west);
\end{tikzpicture}
\end{document}
